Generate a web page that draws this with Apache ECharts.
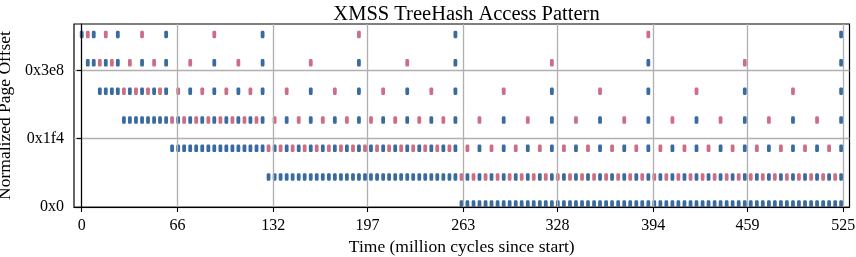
<!DOCTYPE html>
<html><head><meta charset="utf-8">
<script src="https://cdn.jsdelivr.net/npm/echarts@6/dist/echarts.min.js"></script>
<style>html,body{margin:0;padding:0;background:#fff}#c{width:856px;height:257px}</style>
</head><body><div id="c"></div>
<script>
// ---- data ----
const xTickValues = [0, 66, 132, 197, 263, 328, 394, 459, 525];
const xTickLabels = ['0', '66', '132', '197', '263', '328', '394', '459', '525'];
const yTickValues = [0, 500, 1000];
const yTickLabels = ['0x0', '0x1f4', '0x3e8'];

// page offset of each row (bottom row first)
const rowOffsets = [22, 220, 430, 637, 848, 1056, 1264];

// times (million cycles) of the accesses in each row, split by colour
const row0Blue = [261.8, 265.9, 270.1, 274.2, 278.4, 282.5, 286.7, 290.9, 295.0, 299.2, 303.3, 307.5, 311.6, 315.8, 319.9, 324.1, 328.2, 332.4, 336.6, 340.7, 344.9, 349.0, 353.2, 357.3, 361.5, 365.6, 369.8, 374.0, 378.1, 382.3, 386.4, 390.6, 394.7, 398.9, 403.0, 407.2, 411.3, 415.5, 419.7, 423.8, 428.0, 432.1, 436.3, 440.4, 444.6, 448.7, 452.9, 457.1, 461.2, 465.4, 469.5, 473.7, 477.8, 482.0, 486.1, 490.3, 494.4, 498.6, 502.8, 506.9, 511.1, 515.2, 519.4, 523.5];
const row0Red = [];

const row1Blue = [128.8, 133.0, 137.1, 141.3, 145.4, 149.6, 153.7, 157.9, 162.0, 166.2, 170.4, 174.5, 178.7, 182.8, 187.0, 191.1, 195.3, 199.4, 203.6, 207.8, 211.9, 216.1, 220.2, 224.4, 228.5, 232.7, 236.8, 241.0, 245.1, 249.3, 253.5, 257.6,
  265.9, 274.2, 282.5, 290.9, 299.2, 307.5, 315.8, 324.1, 332.4, 340.7, 349.0, 357.3, 365.6, 374.0, 382.3, 390.6, 398.9, 407.2, 415.5, 423.8, 432.1, 440.4, 448.7, 457.1, 465.4, 473.7, 482.0, 490.3, 498.6, 506.9, 515.2, 523.5];
const row1Red = [261.8, 270.1, 278.4, 286.7, 295.0, 303.3, 311.6, 319.9, 328.2, 336.6, 344.9, 353.2, 361.5, 369.8, 378.1, 386.4, 394.7, 403.0, 411.3, 419.7, 428.0, 436.3, 444.6, 452.9, 461.2, 469.5, 477.8, 486.1, 494.4, 502.8, 511.1, 519.4];

const row2Blue = [62.3, 66.5, 70.6, 74.8, 78.9, 83.1, 87.3, 91.4, 95.6, 99.7, 103.9, 108.0, 112.2, 116.3, 120.5, 124.7,
  133.0, 141.3, 149.6, 157.9, 166.2, 174.5, 182.8, 191.1, 199.4, 207.8, 216.1, 224.4, 232.7, 241.0, 249.3, 257.6,
  274.2, 290.9, 307.5, 324.1, 340.7, 357.3, 374.0, 390.6, 407.2, 423.8, 440.4, 457.1, 473.7, 490.3, 506.9, 523.5];
const row2Red = [128.8, 137.1, 145.4, 153.7, 162.0, 170.4, 178.7, 187.0, 195.3, 203.6, 211.9, 220.2, 228.5, 236.8, 245.1, 253.5,
  265.9, 282.5, 299.2, 315.8, 332.4, 349.0, 365.6, 382.3, 398.9, 415.5, 432.1, 448.7, 465.4, 482.0, 498.6, 515.2];

const row3Blue = [29.1, 33.2, 37.4, 41.6, 45.7, 49.9, 54.0, 58.2,
  66.5, 74.8, 83.1, 91.4, 99.7, 108.0, 116.3, 124.7,
  141.3, 157.9, 174.5, 191.1, 207.8, 224.4, 241.0, 257.6,
  290.9, 324.1, 357.3, 390.6, 423.8, 457.1, 490.3, 523.5];
const row3Red = [62.3, 70.6, 78.9, 87.3, 95.6, 103.9, 112.2, 120.5,
  133.0, 149.6, 166.2, 182.8, 199.4, 216.1, 232.7, 249.3,
  274.2, 307.5, 340.7, 374.0, 407.2, 440.4, 473.7, 506.9];

const row4Blue = [12.5, 16.6, 20.8, 24.9, 33.2, 41.6, 49.9, 58.2, 74.8, 91.4, 108.0, 124.7, 157.9, 191.1, 224.4, 257.6, 324.1, 390.6, 457.1, 523.5];
const row4Red = [29.1, 37.4, 45.7, 54.0, 66.5, 83.1, 99.7, 116.3, 141.3, 174.5, 207.8, 241.0, 290.9, 357.3, 423.8, 490.3];

const row5Blue = [4.2, 8.3, 16.6, 24.9, 41.6, 58.2, 91.4, 124.7, 191.1, 257.6, 390.6, 523.5];
const row5Red = [12.5, 20.8, 33.2, 49.9, 74.8, 108.0, 157.9, 224.4, 324.1, 457.1];

const row6Blue = [0, 8.3, 24.9, 58.2, 124.7, 257.6, 523.5];
const row6Red = [4.2, 16.6, 41.6, 91.4, 191.1, 390.6];

const blueRows = [row0Blue, row1Blue, row2Blue, row3Blue, row4Blue, row5Blue, row6Blue];
const redRows = [row0Red, row1Red, row2Red, row3Red, row4Red, row5Red, row6Red];

// ---- chart ----
function toPoints(rows) {
  const out = [];
  rows.forEach((r, i) => r.forEach(t => out.push([t, rowOffsets[i]])));
  return out;
}
const FONT = 'Liberation Serif';
const chart = echarts.init(document.getElementById('c'), null, {renderer: 'canvas'});
chart.setOption({
  animation: false,
  backgroundColor: '#fff',
  title: {
    text: 'XMSS TreeHash Access Pattern',
    left: 461.5, top: -1, textAlign: 'center',
    textStyle: {fontFamily: FONT, fontSize: 20.5, fontWeight: 'normal', color: '#000'}
  },
  grid: {
    left: 74, right: 6.5, top: 24, bottom: 50,
    show: true, borderColor: '#000', borderWidth: 1.2,
    outerBoundsMode: 'none', containLabel: false
  },
  xAxis: {
    type: 'value', min: -5.31, max: 529.27, z: 20,
    name: 'Time (million cycles since start)', nameLocation: 'middle', nameGap: 26,
    nameTextStyle: {fontFamily: FONT, fontSize: 17.5, color: '#000'},
    axisLine: {show: true, onZero: false, lineStyle: {color: '#000', width: 1.2}},
    axisTick: {show: true, length: 5, customValues: xTickValues, lineStyle: {color: '#000', width: 1.1}},
    axisLabel: {customValues: xTickValues, margin: 11, fontFamily: FONT, fontSize: 16, color: '#000',
      formatter: v => xTickLabels[xTickValues.indexOf(v)]},
    splitLine: {show: true, lineStyle: {color: '#b0b0b0', width: 1.3}}
  },
  yAxis: {
    type: 'value', min: 0, max: 1340, z: 20,
    name: 'Normalized Page Offset', nameLocation: 'middle', nameGap: 50, nameRotate: 90,
    nameTextStyle: {fontFamily: FONT, fontSize: 17.5, color: '#000'},
    axisLine: {show: true, lineStyle: {color: '#000', width: 1.2}},
    axisTick: {show: true, length: 5, customValues: yTickValues, lineStyle: {color: '#000', width: 1.1}},
    axisLabel: {customValues: yTickValues, margin: 10, fontFamily: FONT, fontSize: 16, color: '#000',
      formatter: v => yTickLabels[yTickValues.indexOf(v)]},
    splitLine: {show: true, lineStyle: {color: '#b0b0b0', width: 1.3}}
  },
  graphic: [{
    type: 'rect', z: 10, silent: true,
    shape: {x: 74.6, y: 207.4, width: 775, height: 8},
    style: {fill: '#fff'}
  }],
  series: [
    {type: 'scatter', name: 'blue', data: toPoints(blueRows), clip: false, z: 3,
      symbol: 'roundRect', symbolSize: [3.8, 7.5], itemStyle: {color: '#08468a'}, silent: true},
    {type: 'scatter', name: 'red', data: toPoints(redRows), clip: false, z: 3,
      symbol: 'roundRect', symbolSize: [3.8, 7.5], itemStyle: {color: '#bf4a68'}, silent: true}
  ]
});
</script></body></html>
